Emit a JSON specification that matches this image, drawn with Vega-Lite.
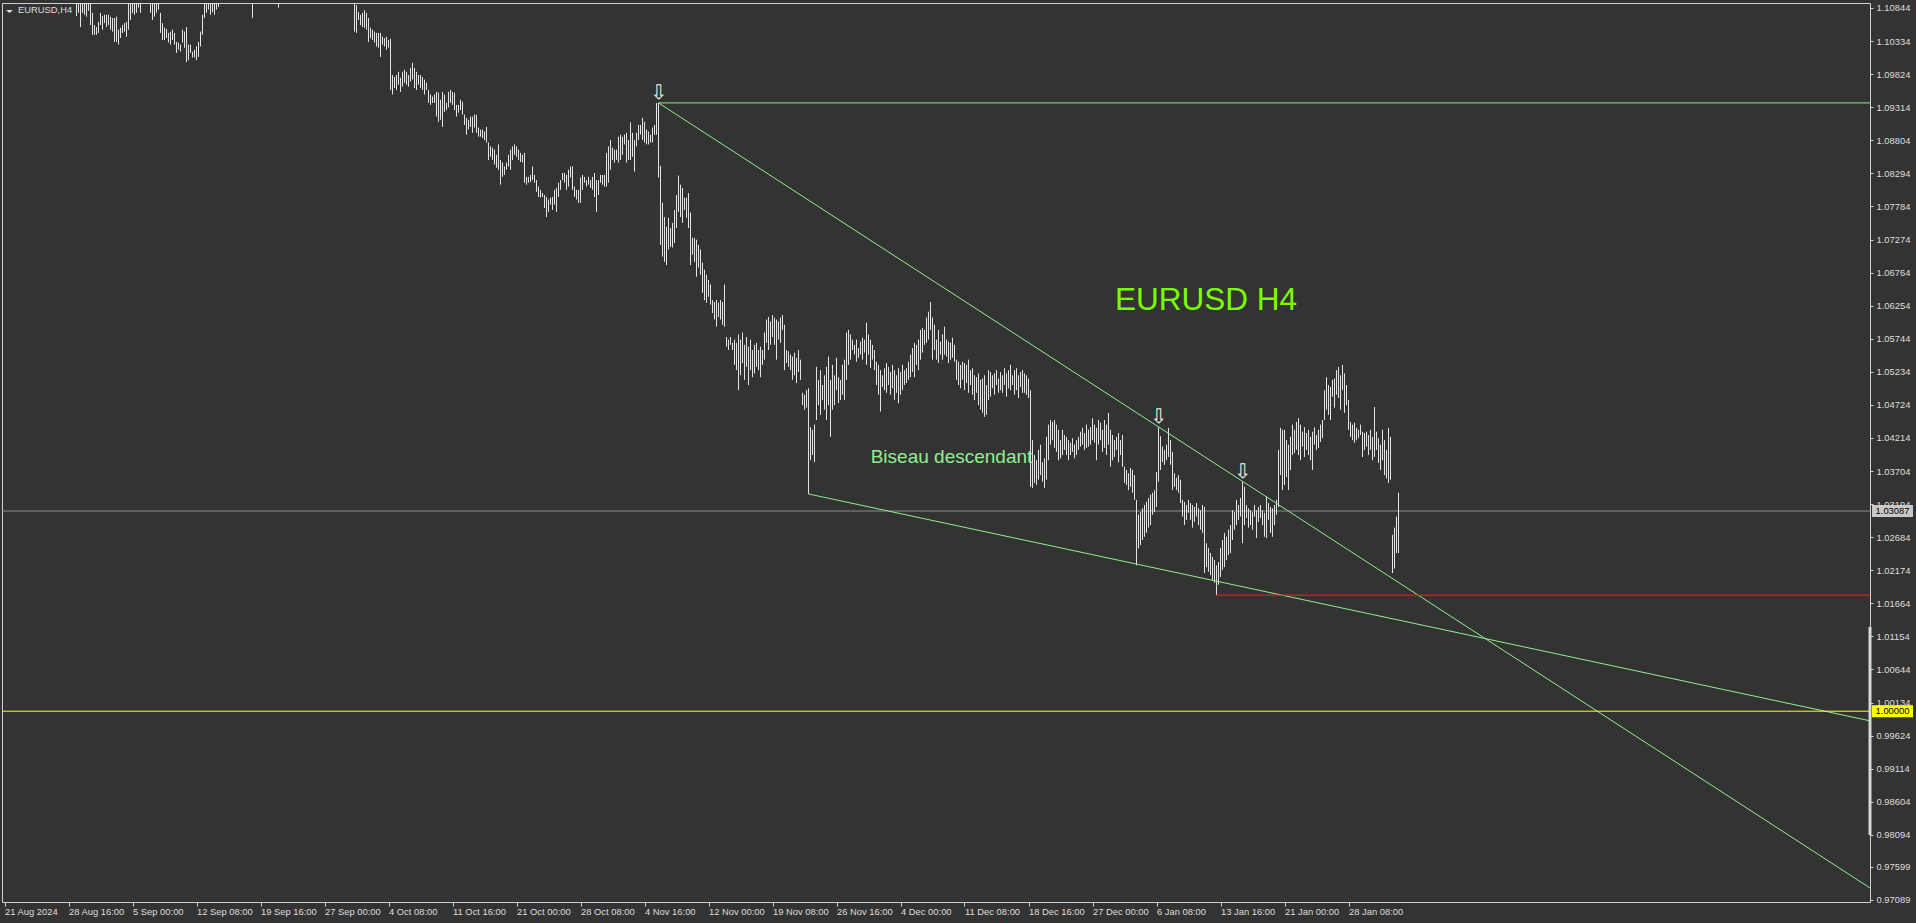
{
"$schema":"https://vega.github.io/schema/vega-lite/v6.json",
"width":1868,"height":899,"autosize":"none",
"padding":{"left":2,"top":3,"right":46,"bottom":21},
"background":"#333333",
"config":{"view":{"stroke":"#d0d0d0","strokeWidth":1},"font":"Liberation Sans","axis":{"labelOverlap":false,"labelBound":false}},
"datasets":{
"bars":[
{"i":0,"h":1.1118,"l":1.1102},{"i":1,"h":1.1125,"l":1.111},{"i":2,"h":1.1138,"l":1.1118},{"i":3,"h":1.115,"l":1.113},{"i":4,"h":1.1158,"l":1.114},{"i":5,"h":1.117,"l":1.1148},{"i":6,"h":1.1165,"l":1.115},{"i":7,"h":1.116,"l":1.114},{"i":8,"h":1.1155,"l":1.1132},{"i":9,"h":1.114,"l":1.1115},
{"i":10,"h":1.1135,"l":1.111},{"i":11,"h":1.1128,"l":1.1108},{"i":12,"h":1.113,"l":1.1112},{"i":13,"h":1.1142,"l":1.1118},{"i":14,"h":1.115,"l":1.1125},{"i":15,"h":1.1175,"l":1.114},{"i":16,"h":1.119,"l":1.1165},{"i":17,"h":1.1195,"l":1.1175},{"i":18,"h":1.12,"l":1.118},{"i":19,"h":1.1196,"l":1.1178},
{"i":20,"h":1.119,"l":1.1172},{"i":21,"h":1.1185,"l":1.1165},{"i":22,"h":1.12,"l":1.117},{"i":23,"h":1.1198,"l":1.1175},{"i":24,"h":1.1185,"l":1.116},{"i":25,"h":1.117,"l":1.115},{"i":26,"h":1.1165,"l":1.114},{"i":27,"h":1.116,"l":1.1135},{"i":28,"h":1.1155,"l":1.113},{"i":29,"h":1.115,"l":1.1128},
{"i":30,"h":1.116,"l":1.113},{"i":31,"h":1.1145,"l":1.1118},{"i":32,"h":1.1135,"l":1.111},{"i":33,"h":1.1125,"l":1.1105},{"i":34,"h":1.112,"l":1.11},{"i":35,"h":1.1118,"l":1.1098},{"i":36,"h":1.111,"l":1.1072},{"i":37,"h":1.1105,"l":1.1077},{"i":38,"h":1.11,"l":1.1055},{"i":39,"h":1.1098,"l":1.1077},
{"i":40,"h":1.1101,"l":1.1074},{"i":41,"h":1.1099,"l":1.1071},{"i":42,"h":1.1103,"l":1.108},{"i":43,"h":1.1099,"l":1.1058},{"i":44,"h":1.1077,"l":1.1043},{"i":45,"h":1.1058,"l":1.1043},{"i":46,"h":1.1055,"l":1.1043},{"i":47,"h":1.1063,"l":1.1046},{"i":48,"h":1.1077,"l":1.1058},{"i":49,"h":1.1072,"l":1.1051},
{"i":50,"h":1.1074,"l":1.1061},{"i":51,"h":1.1074,"l":1.1055},{"i":52,"h":1.1074,"l":1.1058},{"i":53,"h":1.1071,"l":1.1051},{"i":54,"h":1.1069,"l":1.1048},{"i":55,"h":1.1069,"l":1.1032},{"i":56,"h":1.1071,"l":1.1032},{"i":57,"h":1.1051,"l":1.1028},{"i":58,"h":1.1054,"l":1.1038},{"i":59,"h":1.1058,"l":1.1046},
{"i":60,"h":1.1061,"l":1.1048},{"i":61,"h":1.1063,"l":1.104},{"i":62,"h":1.11,"l":1.1051},{"i":63,"h":1.1104,"l":1.1066},{"i":64,"h":1.1098,"l":1.1077},{"i":65,"h":1.1102,"l":1.1074},{"i":66,"h":1.1106,"l":1.1077},{"i":67,"h":1.111,"l":1.1085},{"i":68,"h":1.1108,"l":1.1077},{"i":69,"h":1.1125,"l":1.1098},
{"i":70,"h":1.113,"l":1.11},{"i":71,"h":1.1128,"l":1.1099},{"i":72,"h":1.1122,"l":1.1096},{"i":73,"h":1.111,"l":1.1077},{"i":74,"h":1.1105,"l":1.1066},{"i":75,"h":1.11,"l":1.1071},{"i":76,"h":1.1098,"l":1.1077},{"i":77,"h":1.1099,"l":1.1082},{"i":78,"h":1.1077,"l":1.1046},{"i":79,"h":1.1061,"l":1.1035},
{"i":80,"h":1.1054,"l":1.1035},{"i":81,"h":1.1052,"l":1.1038},{"i":82,"h":1.1046,"l":1.1031},{"i":83,"h":1.1048,"l":1.1028},{"i":84,"h":1.1051,"l":1.1035},{"i":85,"h":1.1046,"l":1.1028},{"i":86,"h":1.1032,"l":1.1015},{"i":87,"h":1.1031,"l":1.102},{"i":88,"h":1.1028,"l":1.1017},{"i":89,"h":1.1051,"l":1.1031},
{"i":90,"h":1.1048,"l":1.1023},{"i":91,"h":1.1055,"l":1.1001},{"i":92,"h":1.1028,"l":1.1004},{"i":93,"h":1.1028,"l":1.1015},{"i":94,"h":1.1017,"l":1.1008},{"i":95,"h":1.102,"l":1.1008},{"i":96,"h":1.1025,"l":1.1004},{"i":97,"h":1.1032,"l":1.1009},{"i":98,"h":1.1048,"l":1.1025},{"i":99,"h":1.1074,"l":1.1043},
{"i":100,"h":1.11,"l":1.1069},{"i":101,"h":1.1102,"l":1.1077},{"i":102,"h":1.1105,"l":1.1082},{"i":103,"h":1.11,"l":1.1074},{"i":104,"h":1.1104,"l":1.1078},{"i":105,"h":1.1101,"l":1.1074},{"i":106,"h":1.1106,"l":1.1082},{"i":107,"h":1.111,"l":1.1086},{"i":108,"h":1.1125,"l":1.1098},{"i":109,"h":1.1135,"l":1.111},
{"i":110,"h":1.1145,"l":1.112},{"i":111,"h":1.115,"l":1.1128},{"i":112,"h":1.1158,"l":1.1135},{"i":113,"h":1.1165,"l":1.114},{"i":114,"h":1.116,"l":1.1138},{"i":115,"h":1.1155,"l":1.113},{"i":116,"h":1.1148,"l":1.1122},{"i":117,"h":1.114,"l":1.1115},{"i":118,"h":1.1135,"l":1.1112},{"i":119,"h":1.115,"l":1.112},
{"i":120,"h":1.1165,"l":1.1135},{"i":121,"h":1.116,"l":1.114},{"i":122,"h":1.115,"l":1.1125},{"i":123,"h":1.113,"l":1.11},{"i":124,"h":1.1112,"l":1.1069},{"i":125,"h":1.112,"l":1.1098},{"i":126,"h":1.114,"l":1.111},{"i":127,"h":1.1155,"l":1.113},{"i":128,"h":1.1165,"l":1.114},{"i":129,"h":1.117,"l":1.1148},
{"i":130,"h":1.1178,"l":1.1155},{"i":131,"h":1.1185,"l":1.116},{"i":132,"h":1.118,"l":1.115},{"i":133,"h":1.1165,"l":1.1135},{"i":134,"h":1.115,"l":1.112},{"i":135,"h":1.1135,"l":1.1105},{"i":136,"h":1.1125,"l":1.1098},{"i":137,"h":1.111,"l":1.1085},{"i":138,"h":1.1125,"l":1.11},{"i":139,"h":1.114,"l":1.1112},
{"i":140,"h":1.115,"l":1.1125},{"i":141,"h":1.116,"l":1.1135},{"i":142,"h":1.1175,"l":1.1145},{"i":143,"h":1.119,"l":1.116},{"i":144,"h":1.12,"l":1.117},{"i":145,"h":1.121,"l":1.118},{"i":146,"h":1.1214,"l":1.1185},{"i":147,"h":1.12,"l":1.117},{"i":148,"h":1.1185,"l":1.115},{"i":149,"h":1.117,"l":1.114},
{"i":150,"h":1.1165,"l":1.1135},{"i":151,"h":1.117,"l":1.1145},{"i":152,"h":1.118,"l":1.115},{"i":153,"h":1.1175,"l":1.115},{"i":154,"h":1.1165,"l":1.114},{"i":155,"h":1.116,"l":1.113},{"i":156,"h":1.115,"l":1.1125},{"i":157,"h":1.1145,"l":1.112},{"i":158,"h":1.115,"l":1.1128},{"i":159,"h":1.116,"l":1.1135},
{"i":160,"h":1.1165,"l":1.114},{"i":161,"h":1.1155,"l":1.113},{"i":162,"h":1.1145,"l":1.112},{"i":163,"h":1.114,"l":1.111},{"i":164,"h":1.1135,"l":1.1108},{"i":165,"h":1.113,"l":1.1105},{"i":166,"h":1.1138,"l":1.1112},{"i":167,"h":1.1145,"l":1.112},{"i":168,"h":1.114,"l":1.1115},{"i":169,"h":1.1132,"l":1.1108},
{"i":170,"h":1.1128,"l":1.1103},{"i":171,"h":1.1122,"l":1.1098},{"i":172,"h":1.1118,"l":1.1096},{"i":173,"h":1.1112,"l":1.1095},{"i":174,"h":1.1108,"l":1.1094},{"i":175,"h":1.1095,"l":1.1048},{"i":176,"h":1.1089,"l":1.1046},{"i":177,"h":1.1078,"l":1.1066},{"i":178,"h":1.1074,"l":1.1058},{"i":179,"h":1.1077,"l":1.1055},
{"i":180,"h":1.1081,"l":1.1054},{"i":181,"h":1.1077,"l":1.1051},{"i":182,"h":1.1069,"l":1.1032},{"i":183,"h":1.1054,"l":1.1038},{"i":184,"h":1.1051,"l":1.1035},{"i":185,"h":1.1048,"l":1.1031},{"i":186,"h":1.1046,"l":1.1025},{"i":187,"h":1.1046,"l":1.1023},{"i":188,"h":1.1046,"l":1.1009},{"i":189,"h":1.104,"l":1.1028},
{"i":190,"h":1.1038,"l":1.1025},{"i":191,"h":1.104,"l":1.102},{"i":192,"h":1.1035,"l":1.1023},{"i":193,"h":1.1037,"l":1.0958},{"i":194,"h":1.0981,"l":1.0951},{"i":195,"h":1.0978,"l":1.0961},{"i":196,"h":1.0981,"l":1.0958},{"i":197,"h":1.0986,"l":1.0966},{"i":198,"h":1.0977,"l":1.0955},{"i":199,"h":1.0986,"l":1.0963},
{"i":200,"h":1.0989,"l":1.0969},{"i":201,"h":1.0986,"l":1.0966},{"i":202,"h":1.0981,"l":1.0963},{"i":203,"h":1.0992,"l":1.0971},{"i":204,"h":1.1,"l":1.0974},{"i":205,"h":1.0992,"l":1.0961},{"i":206,"h":1.0986,"l":1.0958},{"i":207,"h":1.0981,"l":1.0966},{"i":208,"h":1.0981,"l":1.0961},{"i":209,"h":1.0978,"l":1.0958},
{"i":210,"h":1.0974,"l":1.0951},{"i":211,"h":1.0969,"l":1.0958},{"i":212,"h":1.0958,"l":1.0938},{"i":213,"h":1.0951,"l":1.0935},{"i":214,"h":1.0948,"l":1.0938},{"i":215,"h":1.0951,"l":1.0938},{"i":216,"h":1.0955,"l":1.0917},{"i":217,"h":1.0954,"l":1.0909},{"i":218,"h":1.0943,"l":1.0912},{"i":219,"h":1.0955,"l":1.0901},
{"i":220,"h":1.0951,"l":1.0924},{"i":221,"h":1.0938,"l":1.0927},{"i":222,"h":1.0955,"l":1.0931},{"i":223,"h":1.0958,"l":1.0938},{"i":224,"h":1.0955,"l":1.0935},{"i":225,"h":1.0954,"l":1.0927},{"i":226,"h":1.0935,"l":1.0917},{"i":227,"h":1.0935,"l":1.0923},{"i":228,"h":1.0943,"l":1.0927},{"i":229,"h":1.094,"l":1.092},
{"i":230,"h":1.092,"l":1.0904},{"i":231,"h":1.0915,"l":1.0889},{"i":232,"h":1.0912,"l":1.0897},{"i":233,"h":1.0917,"l":1.0901},{"i":234,"h":1.0917,"l":1.0892},{"i":235,"h":1.092,"l":1.09},{"i":236,"h":1.092,"l":1.0892},{"i":237,"h":1.09,"l":1.0886},{"i":238,"h":1.0897,"l":1.0886},{"i":239,"h":1.0897,"l":1.0884},
{"i":240,"h":1.0894,"l":1.0881},{"i":241,"h":1.0901,"l":1.0877},{"i":242,"h":1.0877,"l":1.085},{"i":243,"h":1.0871,"l":1.0855},{"i":244,"h":1.0869,"l":1.085},{"i":245,"h":1.0866,"l":1.0843},{"i":246,"h":1.0858,"l":1.0838},{"i":247,"h":1.0874,"l":1.0835},{"i":248,"h":1.085,"l":1.0812},{"i":249,"h":1.0846,"l":1.0824},
{"i":250,"h":1.084,"l":1.0827},{"i":251,"h":1.0846,"l":1.0835},{"i":252,"h":1.0858,"l":1.084},{"i":253,"h":1.0866,"l":1.0835},{"i":254,"h":1.0871,"l":1.085},{"i":255,"h":1.0874,"l":1.0858},{"i":256,"h":1.0871,"l":1.0855},{"i":257,"h":1.0866,"l":1.085},{"i":258,"h":1.0861,"l":1.0847},{"i":259,"h":1.0858,"l":1.0846},
{"i":260,"h":1.0861,"l":1.0815},{"i":261,"h":1.0824,"l":1.0812},{"i":262,"h":1.0824,"l":1.0815},{"i":263,"h":1.0827,"l":1.0816},{"i":264,"h":1.084,"l":1.0819},{"i":265,"h":1.0827,"l":1.0815},{"i":266,"h":1.0819,"l":1.0801},{"i":267,"h":1.0809,"l":1.0793},{"i":268,"h":1.0804,"l":1.0792},{"i":269,"h":1.0799,"l":1.0793},
{"i":270,"h":1.0796,"l":1.0776},{"i":271,"h":1.0793,"l":1.0762},{"i":272,"h":1.0789,"l":1.077},{"i":273,"h":1.0792,"l":1.0781},{"i":274,"h":1.0793,"l":1.0773},{"i":275,"h":1.0804,"l":1.0781},{"i":276,"h":1.0807,"l":1.077},{"i":277,"h":1.0815,"l":1.0793},{"i":278,"h":1.0819,"l":1.0804},{"i":279,"h":1.083,"l":1.0819},
{"i":280,"h":1.083,"l":1.0815},{"i":281,"h":1.0827,"l":1.0804},{"i":282,"h":1.0835,"l":1.0809},{"i":283,"h":1.084,"l":1.0823},{"i":284,"h":1.084,"l":1.0804},{"i":285,"h":1.0809,"l":1.0793},{"i":286,"h":1.0804,"l":1.0789},{"i":287,"h":1.0804,"l":1.0784},{"i":288,"h":1.0823,"l":1.0784},{"i":289,"h":1.0827,"l":1.0804},
{"i":290,"h":1.0824,"l":1.0815},{"i":291,"h":1.0819,"l":1.0809},{"i":292,"h":1.0824,"l":1.0812},{"i":293,"h":1.0819,"l":1.0807},{"i":294,"h":1.0824,"l":1.0804},{"i":295,"h":1.083,"l":1.0793},{"i":296,"h":1.0819,"l":1.077},{"i":297,"h":1.0819,"l":1.0796},{"i":298,"h":1.0827,"l":1.0815},{"i":299,"h":1.0827,"l":1.0812},
{"i":300,"h":1.0827,"l":1.0809},{"i":301,"h":1.0861,"l":1.0809},{"i":302,"h":1.0871,"l":1.0815},{"i":303,"h":1.0881,"l":1.0835},{"i":304,"h":1.0869,"l":1.085},{"i":305,"h":1.0866,"l":1.0846},{"i":306,"h":1.0866,"l":1.085},{"i":307,"h":1.0886,"l":1.0846},{"i":308,"h":1.0889,"l":1.085},{"i":309,"h":1.0886,"l":1.0858},
{"i":310,"h":1.0889,"l":1.0874},{"i":311,"h":1.0892,"l":1.0846},{"i":312,"h":1.0881,"l":1.085},{"i":313,"h":1.0908,"l":1.085},{"i":314,"h":1.0892,"l":1.0855},{"i":315,"h":1.0881,"l":1.0832},{"i":316,"h":1.0892,"l":1.0871},{"i":317,"h":1.0904,"l":1.0881},{"i":318,"h":1.0904,"l":1.0889},{"i":319,"h":1.0915,"l":1.0881},
{"i":320,"h":1.0909,"l":1.0877},{"i":321,"h":1.0897,"l":1.0874},{"i":322,"h":1.0894,"l":1.0874},{"i":323,"h":1.0889,"l":1.0877},{"i":324,"h":1.09,"l":1.0877},{"i":325,"h":1.0904,"l":1.0889},{"i":326,"h":1.0938,"l":1.0889},{"i":327,"h":1.0938,"l":1.0823},{"i":328,"h":1.0841,"l":1.0719},{"i":329,"h":1.0784,"l":1.0701},
{"i":330,"h":1.0762,"l":1.0693},{"i":331,"h":1.0747,"l":1.0688},{"i":332,"h":1.0761,"l":1.0712},{"i":333,"h":1.0745,"l":1.0716},{"i":334,"h":1.0753,"l":1.0715},{"i":335,"h":1.0773,"l":1.0722},{"i":336,"h":1.0796,"l":1.0745},{"i":337,"h":1.0826,"l":1.077},{"i":338,"h":1.0812,"l":1.0762},{"i":339,"h":1.0807,"l":1.0753},
{"i":340,"h":1.0792,"l":1.0773},{"i":341,"h":1.0792,"l":1.0761},{"i":342,"h":1.0799,"l":1.0745},{"i":343,"h":1.0769,"l":1.0688},{"i":344,"h":1.073,"l":1.0704},{"i":345,"h":1.073,"l":1.0693},{"i":346,"h":1.0727,"l":1.067},{"i":347,"h":1.0719,"l":1.0684},{"i":348,"h":1.0712,"l":1.0673},{"i":349,"h":1.0692,"l":1.0645},
{"i":350,"h":1.0681,"l":1.0634},{"i":351,"h":1.0673,"l":1.063},{"i":352,"h":1.0665,"l":1.0639},{"i":353,"h":1.0658,"l":1.0627},{"i":354,"h":1.0634,"l":1.0614},{"i":355,"h":1.0631,"l":1.0604},{"i":356,"h":1.0634,"l":1.0593},{"i":357,"h":1.063,"l":1.0608},{"i":358,"h":1.0634,"l":1.0604},{"i":359,"h":1.0631,"l":1.0596},
{"i":360,"h":1.0658,"l":1.0593},{"i":361,"h":1.0577,"l":1.0562},{"i":362,"h":1.0573,"l":1.0557},{"i":363,"h":1.0577,"l":1.0565},{"i":364,"h":1.0568,"l":1.0557},{"i":365,"h":1.0573,"l":1.0534},{"i":366,"h":1.0568,"l":1.0526},{"i":367,"h":1.0581,"l":1.0495},{"i":368,"h":1.0573,"l":1.0518},{"i":369,"h":1.0584,"l":1.0537},
{"i":370,"h":1.0565,"l":1.0511},{"i":371,"h":1.0577,"l":1.0531},{"i":372,"h":1.0562,"l":1.0503},{"i":373,"h":1.0573,"l":1.0526},{"i":374,"h":1.0557,"l":1.0515},{"i":375,"h":1.0565,"l":1.0521},{"i":376,"h":1.0568,"l":1.0531},{"i":377,"h":1.0557,"l":1.0526},{"i":378,"h":1.0562,"l":1.0515},{"i":379,"h":1.0557,"l":1.0534},
{"i":380,"h":1.0584,"l":1.0542},{"i":381,"h":1.0604,"l":1.0568},{"i":382,"h":1.0608,"l":1.0557},{"i":383,"h":1.0601,"l":1.0565},{"i":384,"h":1.0611,"l":1.0577},{"i":385,"h":1.0607,"l":1.0565},{"i":386,"h":1.0604,"l":1.0542},{"i":387,"h":1.0601,"l":1.0573},{"i":388,"h":1.0607,"l":1.0568},{"i":389,"h":1.0611,"l":1.0588},
{"i":390,"h":1.0596,"l":1.0526},{"i":391,"h":1.0557,"l":1.0537},{"i":392,"h":1.0555,"l":1.0531},{"i":393,"h":1.055,"l":1.0526},{"i":394,"h":1.0547,"l":1.0511},{"i":395,"h":1.0553,"l":1.0518},{"i":396,"h":1.0545,"l":1.0506},{"i":397,"h":1.0557,"l":1.0523},{"i":398,"h":1.0542,"l":1.0511},{"i":399,"h":1.0491,"l":1.0472},
{"i":400,"h":1.0488,"l":1.0465},{"i":401,"h":1.0495,"l":1.0468},{"i":402,"h":1.0498,"l":1.0335},{"i":403,"h":1.0438,"l":1.0387},{"i":404,"h":1.0434,"l":1.0395},{"i":405,"h":1.0442,"l":1.0384},{"i":406,"h":1.0531,"l":1.0449},{"i":407,"h":1.0511,"l":1.0472},{"i":408,"h":1.0526,"l":1.0457},{"i":409,"h":1.0503,"l":1.048},
{"i":410,"h":1.0518,"l":1.0465},{"i":411,"h":1.0531,"l":1.0449},{"i":412,"h":1.0547,"l":1.0472},{"i":413,"h":1.0511,"l":1.0423},{"i":414,"h":1.0534,"l":1.0465},{"i":415,"h":1.0518,"l":1.0472},{"i":416,"h":1.0545,"l":1.0495},{"i":417,"h":1.0515,"l":1.0475},{"i":418,"h":1.0511,"l":1.048},{"i":419,"h":1.0534,"l":1.0488},
{"i":420,"h":1.0542,"l":1.048},{"i":421,"h":1.0584,"l":1.0511},{"i":422,"h":1.0588,"l":1.0534},{"i":423,"h":1.0581,"l":1.0542},{"i":424,"h":1.0573,"l":1.0557},{"i":425,"h":1.0565,"l":1.055},{"i":426,"h":1.0573,"l":1.0539},{"i":427,"h":1.056,"l":1.0545},{"i":428,"h":1.057,"l":1.055},{"i":429,"h":1.0576,"l":1.0542},
{"i":430,"h":1.0573,"l":1.0553},{"i":431,"h":1.0599,"l":1.0534},{"i":432,"h":1.0581,"l":1.055},{"i":433,"h":1.0573,"l":1.0529},{"i":434,"h":1.0565,"l":1.0542},{"i":435,"h":1.0557,"l":1.0526},{"i":436,"h":1.0539,"l":1.0503},{"i":437,"h":1.0534,"l":1.0488},{"i":438,"h":1.0526,"l":1.0462},{"i":439,"h":1.0518,"l":1.05},
{"i":440,"h":1.0529,"l":1.0495},{"i":441,"h":1.0537,"l":1.0491},{"i":442,"h":1.0531,"l":1.0503},{"i":443,"h":1.0523,"l":1.0488},{"i":444,"h":1.0534,"l":1.0498},{"i":445,"h":1.0526,"l":1.048},{"i":446,"h":1.0518,"l":1.0491},{"i":447,"h":1.0529,"l":1.0475},{"i":448,"h":1.0523,"l":1.0488},{"i":449,"h":1.0534,"l":1.0495},
{"i":450,"h":1.0526,"l":1.0503},{"i":451,"h":1.0529,"l":1.0506},{"i":452,"h":1.0539,"l":1.0511},{"i":453,"h":1.055,"l":1.0515},{"i":454,"h":1.056,"l":1.0523},{"i":455,"h":1.0568,"l":1.0515},{"i":456,"h":1.0565,"l":1.0534},{"i":457,"h":1.0573,"l":1.0526},{"i":458,"h":1.0588,"l":1.0542},{"i":459,"h":1.0591,"l":1.0553},
{"i":460,"h":1.0588,"l":1.0565},{"i":461,"h":1.0607,"l":1.0568},{"i":462,"h":1.0616,"l":1.0573},{"i":463,"h":1.0631,"l":1.0588},{"i":464,"h":1.0607,"l":1.0542},{"i":465,"h":1.0596,"l":1.0557},{"i":466,"h":1.0573,"l":1.0542},{"i":467,"h":1.0588,"l":1.0537},{"i":468,"h":1.057,"l":1.055},{"i":469,"h":1.0581,"l":1.0542},
{"i":470,"h":1.0593,"l":1.055},{"i":471,"h":1.0573,"l":1.0547},{"i":472,"h":1.057,"l":1.0537},{"i":473,"h":1.0568,"l":1.0542},{"i":474,"h":1.0576,"l":1.0545},{"i":475,"h":1.0565,"l":1.0539},{"i":476,"h":1.0542,"l":1.0511},{"i":477,"h":1.0539,"l":1.0503},{"i":478,"h":1.0534,"l":1.0498},{"i":479,"h":1.0539,"l":1.0511},
{"i":480,"h":1.0537,"l":1.0495},{"i":481,"h":1.0534,"l":1.0506},{"i":482,"h":1.0542,"l":1.0491},{"i":483,"h":1.0526,"l":1.0503},{"i":484,"h":1.0529,"l":1.0488},{"i":485,"h":1.0518,"l":1.048},{"i":486,"h":1.0515,"l":1.0491},{"i":487,"h":1.0521,"l":1.0472},{"i":488,"h":1.0511,"l":1.0465},{"i":489,"h":1.0513,"l":1.046},
{"i":490,"h":1.0518,"l":1.0454},{"i":491,"h":1.0503,"l":1.0457},{"i":492,"h":1.0526,"l":1.048},{"i":493,"h":1.0523,"l":1.0485},{"i":494,"h":1.0518,"l":1.0498},{"i":495,"h":1.0521,"l":1.0488},{"i":496,"h":1.0526,"l":1.0503},{"i":497,"h":1.0513,"l":1.0491},{"i":498,"h":1.0523,"l":1.0495},{"i":499,"h":1.0518,"l":1.0491},
{"i":500,"h":1.0529,"l":1.0503},{"i":501,"h":1.0521,"l":1.0485},{"i":502,"h":1.0526,"l":1.0498},{"i":503,"h":1.0534,"l":1.0495},{"i":504,"h":1.0518,"l":1.0503},{"i":505,"h":1.0526,"l":1.0488},{"i":506,"h":1.0529,"l":1.0495},{"i":507,"h":1.0518,"l":1.0483},{"i":508,"h":1.0523,"l":1.05},{"i":509,"h":1.0526,"l":1.0491},
{"i":510,"h":1.0521,"l":1.0491},{"i":511,"h":1.0518,"l":1.0488},{"i":512,"h":1.0513,"l":1.0483},{"i":513,"h":1.0495,"l":1.0346},{"i":514,"h":1.0418,"l":1.0344},{"i":515,"h":1.0395,"l":1.0352},{"i":516,"h":1.0387,"l":1.0349},{"i":517,"h":1.0403,"l":1.0357},{"i":518,"h":1.0411,"l":1.0364},{"i":519,"h":1.0384,"l":1.0354},
{"i":520,"h":1.039,"l":1.0344},{"i":521,"h":1.0423,"l":1.0357},{"i":522,"h":1.0442,"l":1.0387},{"i":523,"h":1.0449,"l":1.0411},{"i":524,"h":1.0446,"l":1.0418},{"i":525,"h":1.0449,"l":1.0406},{"i":526,"h":1.0442,"l":1.04},{"i":527,"h":1.0434,"l":1.0387},{"i":528,"h":1.0418,"l":1.039},{"i":529,"h":1.0434,"l":1.0395},
{"i":530,"h":1.0426,"l":1.0403},{"i":531,"h":1.0423,"l":1.0395},{"i":532,"h":1.0418,"l":1.0387},{"i":533,"h":1.0414,"l":1.0395},{"i":534,"h":1.0421,"l":1.04},{"i":535,"h":1.0411,"l":1.039},{"i":536,"h":1.0418,"l":1.0395},{"i":537,"h":1.0423,"l":1.0403},{"i":538,"h":1.0431,"l":1.0408},{"i":539,"h":1.0437,"l":1.0411},
{"i":540,"h":1.0429,"l":1.0403},{"i":541,"h":1.0442,"l":1.0406},{"i":542,"h":1.0434,"l":1.0408},{"i":543,"h":1.0438,"l":1.0411},{"i":544,"h":1.0452,"l":1.0418},{"i":545,"h":1.0442,"l":1.0414},{"i":546,"h":1.0437,"l":1.0387},{"i":547,"h":1.0449,"l":1.0411},{"i":548,"h":1.0445,"l":1.0418},{"i":549,"h":1.0434,"l":1.04},
{"i":550,"h":1.0449,"l":1.0406},{"i":551,"h":1.0442,"l":1.0395},{"i":552,"h":1.046,"l":1.0411},{"i":553,"h":1.0434,"l":1.0377},{"i":554,"h":1.0426,"l":1.0387},{"i":555,"h":1.0418,"l":1.0392},{"i":556,"h":1.0423,"l":1.0403},{"i":557,"h":1.0429,"l":1.0384},{"i":558,"h":1.0418,"l":1.0395},{"i":559,"h":1.0426,"l":1.0377},
{"i":560,"h":1.0377,"l":1.0352},{"i":561,"h":1.0372,"l":1.0349},{"i":562,"h":1.0367,"l":1.0341},{"i":563,"h":1.0375,"l":1.0346},{"i":564,"h":1.0372,"l":1.0337},{"i":565,"h":1.0364,"l":1.0326},{"i":566,"h":1.0326,"l":1.0225},{"i":567,"h":1.0303,"l":1.0251},{"i":568,"h":1.0307,"l":1.0256},{"i":569,"h":1.0313,"l":1.0264},
{"i":570,"h":1.0318,"l":1.0269},{"i":571,"h":1.0323,"l":1.0275},{"i":572,"h":1.0329,"l":1.0283},{"i":573,"h":1.0334,"l":1.0287},{"i":574,"h":1.0337,"l":1.0303},{"i":575,"h":1.0341,"l":1.0307},{"i":576,"h":1.0369,"l":1.0315},{"i":577,"h":1.0438,"l":1.0354},{"i":578,"h":1.0424,"l":1.0372},{"i":579,"h":1.0408,"l":1.0384},
{"i":580,"h":1.0403,"l":1.038},{"i":581,"h":1.0411,"l":1.0387},{"i":582,"h":1.0437,"l":1.0392},{"i":583,"h":1.0418,"l":1.038},{"i":584,"h":1.04,"l":1.0341},{"i":585,"h":1.0367,"l":1.0346},{"i":586,"h":1.036,"l":1.0341},{"i":587,"h":1.0364,"l":1.0337},{"i":588,"h":1.0357,"l":1.0321},{"i":589,"h":1.0326,"l":1.03},
{"i":590,"h":1.0323,"l":1.0287},{"i":591,"h":1.0318,"l":1.0295},{"i":592,"h":1.0326,"l":1.0306},{"i":593,"h":1.0321,"l":1.0295},{"i":594,"h":1.0318,"l":1.0283},{"i":595,"h":1.0315,"l":1.0292},{"i":596,"h":1.0321,"l":1.03},{"i":597,"h":1.0313,"l":1.0287},{"i":598,"h":1.031,"l":1.028},{"i":599,"h":1.0318,"l":1.0275},
{"i":600,"h":1.0315,"l":1.0213},{"i":601,"h":1.0259,"l":1.0222},{"i":602,"h":1.0252,"l":1.0215},{"i":603,"h":1.0244,"l":1.021},{"i":604,"h":1.0238,"l":1.0202},{"i":605,"h":1.0233,"l":1.0198},{"i":606,"h":1.0225,"l":1.0179},{"i":607,"h":1.023,"l":1.0195},{"i":608,"h":1.0252,"l":1.0207},{"i":609,"h":1.0264,"l":1.0218},
{"i":610,"h":1.0275,"l":1.0222},{"i":611,"h":1.0269,"l":1.0233},{"i":612,"h":1.028,"l":1.0241},{"i":613,"h":1.0287,"l":1.0244},{"i":614,"h":1.031,"l":1.0264},{"i":615,"h":1.0307,"l":1.028},{"i":616,"h":1.0326,"l":1.0287},{"i":617,"h":1.0318,"l":1.0295},{"i":618,"h":1.0329,"l":1.03},{"i":619,"h":1.0354,"l":1.0259},
{"i":620,"h":1.0346,"l":1.0287},{"i":621,"h":1.0318,"l":1.0298},{"i":622,"h":1.0313,"l":1.0283},{"i":623,"h":1.031,"l":1.0287},{"i":624,"h":1.0307,"l":1.028},{"i":625,"h":1.0318,"l":1.03},{"i":626,"h":1.031,"l":1.0267},{"i":627,"h":1.0315,"l":1.0292},{"i":628,"h":1.0318,"l":1.0298},{"i":629,"h":1.031,"l":1.0287},
{"i":630,"h":1.0306,"l":1.0269},{"i":631,"h":1.0331,"l":1.0267},{"i":632,"h":1.0321,"l":1.0295},{"i":633,"h":1.0315,"l":1.0275},{"i":634,"h":1.0313,"l":1.0269},{"i":635,"h":1.0318,"l":1.0287},{"i":636,"h":1.0326,"l":1.0303},{"i":637,"h":1.0403,"l":1.0315},{"i":638,"h":1.0437,"l":1.0364},{"i":639,"h":1.0434,"l":1.0341},
{"i":640,"h":1.0434,"l":1.0349},{"i":641,"h":1.0418,"l":1.0361},{"i":642,"h":1.0411,"l":1.0341},{"i":643,"h":1.0423,"l":1.0372},{"i":644,"h":1.0442,"l":1.0395},{"i":645,"h":1.0434,"l":1.0398},{"i":646,"h":1.0446,"l":1.0403},{"i":647,"h":1.0452,"l":1.0395},{"i":648,"h":1.0442,"l":1.0387},{"i":649,"h":1.0431,"l":1.0408},
{"i":650,"h":1.0438,"l":1.0392},{"i":651,"h":1.0429,"l":1.0403},{"i":652,"h":1.0434,"l":1.0395},{"i":653,"h":1.0423,"l":1.0387},{"i":654,"h":1.0431,"l":1.0372},{"i":655,"h":1.0438,"l":1.0411},{"i":656,"h":1.0426,"l":1.0403},{"i":657,"h":1.0434,"l":1.0406},{"i":658,"h":1.0442,"l":1.0415},{"i":659,"h":1.0449,"l":1.0421},
{"i":660,"h":1.0495,"l":1.0449},{"i":661,"h":1.0515,"l":1.0465},{"i":662,"h":1.0503,"l":1.0457},{"i":663,"h":1.05,"l":1.0449},{"i":664,"h":1.0511,"l":1.0485},{"i":665,"h":1.0513,"l":1.0468},{"i":666,"h":1.0526,"l":1.0488},{"i":667,"h":1.0531,"l":1.0483},{"i":668,"h":1.0518,"l":1.0465},{"i":669,"h":1.0534,"l":1.0495},
{"i":670,"h":1.0521,"l":1.046},{"i":671,"h":1.0503,"l":1.0472},{"i":672,"h":1.048,"l":1.0434},{"i":673,"h":1.0446,"l":1.0423},{"i":674,"h":1.0442,"l":1.0418},{"i":675,"h":1.0445,"l":1.0414},{"i":676,"h":1.0437,"l":1.0418},{"i":677,"h":1.0434,"l":1.0421},{"i":678,"h":1.0442,"l":1.0426},{"i":679,"h":1.0431,"l":1.0392},
{"i":680,"h":1.0429,"l":1.0403},{"i":681,"h":1.0431,"l":1.0408},{"i":682,"h":1.0426,"l":1.0395},{"i":683,"h":1.0434,"l":1.0403},{"i":684,"h":1.0423,"l":1.0387},{"i":685,"h":1.0469,"l":1.0392},{"i":686,"h":1.0431,"l":1.0403},{"i":687,"h":1.0421,"l":1.0383},{"i":688,"h":1.0411,"l":1.0372},{"i":689,"h":1.0434,"l":1.0387},
{"i":690,"h":1.0418,"l":1.0364},{"i":691,"h":1.0403,"l":1.0359},{"i":692,"h":1.0437,"l":1.0352},{"i":693,"h":1.0423,"l":1.0357},{"i":694,"h":1.0272,"l":1.0213},{"i":695,"h":1.0283,"l":1.022},{"i":696,"h":1.03,"l":1.0244},{"i":697,"h":1.0337,"l":1.0244}
],
"lines":[
{"name":"high","x1":327,"p1":1.0938,"x2":932.75,"p2":1.0938},
{"name":"upper","x1":327,"p1":1.0938,"x2":933,"p2":0.9727},
{"name":"lower","x1":402,"p1":1.0335,"x2":933,"p2":0.9985},
{"name":"low","x1":606,"p1":1.0179,"x2":932.75,"p2":1.0179},
{"name":"bid","x1":-1.25,"p1":1.03087,"x2":932.75,"p2":1.03087},
{"name":"parity","x1":-1.25,"p1":1.0,"x2":932.75,"p2":1.0}
],
"arrows":[{"i":327,"p":1.0938},{"i":577,"p":1.0438},{"i":619,"p":1.0354}],
"tags":[{"name":"bid","p":1.03087},{"name":"parity","p":1.0}]
},
"layer":[
{"data":{"name":"lines"},"transform":[{"filter":"datum.name=='bid'"}],
 "mark":{"type":"rule","strokeWidth":1,"clip":true,"color":"#8c8c8c"},
 "encoding":{"x":{"field":"x1","type":"quantitative","scale":{"domain":[-1.25,932.75],"nice":false,"zero":false},
   "axis":{"orient":"bottom","title":null,"grid":false,"domain":false,"tickCount":60,
    "values":[0,32,64,96,128,160,192,224,256,288,320,352,384,416,448,480,512,544,576,608,640,672],
    "labelExpr":"['21 Aug 2024','28 Aug 16:00','5 Sep 00:00','12 Sep 08:00','19 Sep 16:00','27 Sep 00:00','4 Oct 08:00','11 Oct 16:00','21 Oct 00:00','28 Oct 08:00','4 Nov 16:00','12 Nov 00:00','19 Nov 08:00','26 Nov 16:00','4 Dec 00:00','11 Dec 08:00','18 Dec 16:00','27 Dec 00:00','6 Jan 08:00','13 Jan 16:00','21 Jan 00:00','28 Jan 08:00'][round(datum.value/32)]",
    "labelAlign":"left","labelBaseline":"top","labelDx":-1,"labelPadding":1,"labelFlush":false,"labelOverlap":false,
    "tickSize":4,"tickColor":"#d0d0d0","labelColor":"#dedede","labelFont":"Liberation Sans","labelFontSize":9.4}},
  "x2":{"field":"x2"},
  "y":{"field":"p1","type":"quantitative","scale":{"domain":[0.97058,1.10921],"nice":false,"zero":false},
   "axis":{"orient":"right","title":null,"grid":false,"domain":false,"tickCount":60,
    "values":[1.10844,1.10334,1.09824,1.09314,1.08804,1.08294,1.07784,1.07274,1.06764,1.06254,1.05744,1.05234,1.04724,1.04214,1.03704,1.03194,1.02684,1.02174,1.01664,1.01154,1.00644,1.00134,0.99624,0.99114,0.98604,0.98094,0.97599,0.97089],
    "format":".5f","labelAlign":"left","labelBaseline":"middle","labelPadding":3,"labelFlush":false,"labelOverlap":false,
    "tickSize":3,"tickColor":"#d0d0d0","labelColor":"#dedede","labelFont":"Liberation Sans","labelFontSize":9.4}},
  "y2":{"field":"p2"}}},
{"data":{"name":"bars"},
 "mark":{"type":"rule","color":"#e4e4e4","strokeWidth":1,"clip":true},
 "encoding":{
  "x":{"field":"i","type":"quantitative","scale":{"domain":[-1.25,932.75],"nice":false,"zero":false}},
  "y":{"field":"h","type":"quantitative","scale":{"domain":[0.97058,1.10921],"nice":false,"zero":false}},
  "y2":{"field":"l"}}},
{"data":{"name":"lines"},"transform":[{"filter":"datum.name!='bid'"}],
 "mark":{"type":"rule","strokeWidth":1,"clip":true},
 "encoding":{"x":{"field":"x1","type":"quantitative","scale":{"domain":[-1.25,932.75],"nice":false,"zero":false}},
  "x2":{"field":"x2"},
  "y":{"field":"p1","type":"quantitative","scale":{"domain":[0.97058,1.10921],"nice":false,"zero":false}},
  "y2":{"field":"p2"},
  "color":{"field":"name","type":"nominal","legend":null,
   "scale":{"domain":["high","upper","lower","low","parity"],"range":["#90ee90","#90ee90","#90ee90","#ff1a1a","#ffff00"]}}}},
{"data":{"name":"arrows"},
 "mark":{"type":"text","text":"⇩","font":"DejaVu Sans","fontSize":20,"baseline":"alphabetic","align":"center","dy":-4,"color":"#f2f2f2"},
 "encoding":{"x":{"field":"i","type":"quantitative","scale":{"domain":[-1.25,932.75],"nice":false,"zero":false}},
  "y":{"field":"p","type":"quantitative","scale":{"domain":[0.97058,1.10921],"nice":false,"zero":false}}}},
{"data":{"values":[{"label":"EURUSD H4"}]},
 "mark":{"type":"text","font":"Liberation Sans","fontSize":31.5,"align":"left","baseline":"alphabetic","color":"#7cfc00"},
 "encoding":{"x":{"datum":555.25,"type":"quantitative","scale":{"domain":[-1.25,932.75],"nice":false,"zero":false}},
  "y":{"datum":1.0619,"type":"quantitative","scale":{"domain":[0.97058,1.10921],"nice":false,"zero":false}},
  "text":{"field":"label"}}},
{"data":{"values":[{"label":"Biseau descendant"}]},
 "mark":{"type":"text","font":"Liberation Sans","fontSize":19,"align":"left","baseline":"alphabetic","color":"#90ee90"},
 "encoding":{"x":{"datum":433.1,"type":"quantitative","scale":{"domain":[-1.25,932.75],"nice":false,"zero":false}},
  "y":{"datum":1.0382,"type":"quantitative","scale":{"domain":[0.97058,1.10921],"nice":false,"zero":false}},
  "text":{"field":"label"}}},
{"data":{"values":[{"label":"EURUSD,H4"}]},
 "mark":{"type":"text","font":"Liberation Sans","fontSize":9.4,"align":"left","baseline":"middle","color":"#dedede"},
 "encoding":{"x":{"datum":6.75,"type":"quantitative","scale":{"domain":[-1.25,932.75],"nice":false,"zero":false}},
  "y":{"datum":1.1081,"type":"quantitative","scale":{"domain":[0.97058,1.10921],"nice":false,"zero":false}},
  "text":{"field":"label"}}},
{"data":{"values":[{"label":"menu"}]},
 "mark":{"type":"point","shape":"M-1,-0.45L1,-0.45L0,0.45Z","size":49,"filled":true,"color":"#dedede","opacity":1},
 "encoding":{"x":{"datum":2.5,"type":"quantitative","scale":{"domain":[-1.25,932.75],"nice":false,"zero":false}},
  "y":{"datum":1.1079,"type":"quantitative","scale":{"domain":[0.97058,1.10921],"nice":false,"zero":false}}}},
{"data":{"values":[{"p1":1.013,"p2":0.9809}]},
 "mark":{"type":"rule","strokeWidth":3,"color":"#d8d8d8"},
 "encoding":{"x":{"datum":932.75,"type":"quantitative","scale":{"domain":[-1.25,932.75],"nice":false,"zero":false}},
  "y":{"field":"p1","type":"quantitative","scale":{"domain":[0.97058,1.10921],"nice":false,"zero":false}},
  "y2":{"field":"p2"}}},
{"data":{"name":"tags"},"transform":[{"filter":"datum.name=='bid'"}],
 "mark":{"type":"tick","orient":"horizontal","size":41,"thickness":12,"opacity":1,"color":"#c8c8c8"},
 "encoding":{"x":{"datum":944,"type":"quantitative","scale":{"domain":[-1.25,932.75],"nice":false,"zero":false}},
  "y":{"field":"p","type":"quantitative","scale":{"domain":[0.97058,1.10921],"nice":false,"zero":false}}}},
{"data":{"name":"tags"},"transform":[{"filter":"datum.name=='parity'"}],
 "mark":{"type":"tick","orient":"horizontal","size":41,"thickness":12,"opacity":1,"color":"#ffff00"},
 "encoding":{"x":{"datum":944,"type":"quantitative","scale":{"domain":[-1.25,932.75],"nice":false,"zero":false}},
  "y":{"field":"p","type":"quantitative","scale":{"domain":[0.97058,1.10921],"nice":false,"zero":false}}}},
{"data":{"name":"tags"},
 "mark":{"type":"text","font":"Liberation Sans","fontSize":9.4,"align":"center","baseline":"middle","color":"#000000"},
 "encoding":{"x":{"datum":944,"type":"quantitative","scale":{"domain":[-1.25,932.75],"nice":false,"zero":false}},
  "y":{"field":"p","type":"quantitative","scale":{"domain":[0.97058,1.10921],"nice":false,"zero":false}},
  "text":{"field":"p","format":".5f"}}}
]
}
